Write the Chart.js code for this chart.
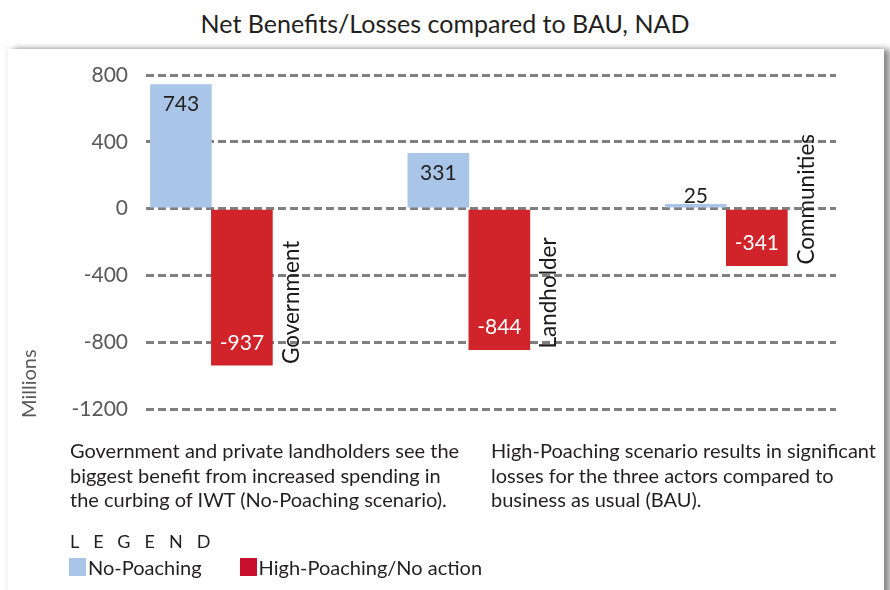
<!DOCTYPE html>
<html>
<head>
<meta charset="utf-8">
<title>Net Benefits/Losses compared to BAU, NAD</title>
<script src="https://cdn.jsdelivr.net/npm/chart.js@4.4.1/dist/chart.umd.min.js"></script>
<style>
  html, body { margin: 0; padding: 0; background: #fff; }
  body {
    width: 890px; height: 590px; position: relative; overflow: hidden;
    font-family: Lato, 'Open Sans', sans-serif; color: #231f20;
  }
  .panel {
    position: absolute; left: 8px; top: 49px; width: 876px; height: 580px;
    background: #fff;
    box-shadow: 6px 0 6px rgba(0, 0, 0, 0.45), -2px -2px 5px rgba(0, 0, 0, 0.06);
  }
  .title {
    position: absolute; left: 0; top: 8px; width: 890px; text-align: center;
    font-size: 25px; line-height: 30px;
  }
  #chart { position: absolute; left: 0; top: 0; }
  .note { position: absolute; top: 438px; font-size: 20px; line-height: 24.5px; white-space: nowrap; }
  #note1 { left: 70px; }
  #note2 { left: 491px; }
  .legend-title { position: absolute; left: 70px; top: 530px; font-size: 18px; letter-spacing: 14px; }
  .legend-items { position: absolute; left: 69px; top: 556px; font-size: 20px; line-height: 22px; display: flex; }
  .legend-item { display: flex; align-items: center; margin-right: 38px; }
  .swatch { width: 17px; height: 18px; margin-right: 2px; }
</style>
</head>
<body>
<div class="panel"></div>
<div class="title" id="title"></div>
<canvas id="chart" width="890" height="590"></canvas>
<div class="note" id="note1"></div>
<div class="note" id="note2"></div>
<div class="legend-title">LEGEND</div>
<div class="legend-items" id="legend"></div>

<script>
const titleText = 'Net Benefits/Losses compared to BAU, NAD';
const categories = ['Government', 'Landholder', 'Communities'];
const seriesNames = ['No-Poaching', 'High-Poaching/No action'];
const noPoaching = [743, 331, 25];
const highPoaching = [-937, -844, -341];
const yTickValues = [800, 400, 0, -400, -800, -1200];
const yAxisTitle = 'Millions';
const note1Lines = [
  'Government and private landholders see the',
  'biggest benefit from increased spending in',
  'the curbing of IWT (No-Poaching scenario).'
];
const note2Lines = [
  'High-Poaching scenario results in significant',
  'losses for the three actors compared to',
  'business as usual (BAU).'
];

const barColors = ['#a9c6e8', '#d1232a'];
const swatchColors = ['#a9c6e8', '#c8102e'];
const valueColors = ['#231f20', '#ffffff'];

document.getElementById('title').textContent = titleText;
document.getElementById('note1').innerHTML = note1Lines.join('<br>');
document.getElementById('note2').innerHTML = note2Lines.join('<br>');

const legendEl = document.getElementById('legend');
seriesNames.forEach(function (name, i) {
  const item = document.createElement('div');
  item.className = 'legend-item';
  const sw = document.createElement('span');
  sw.className = 'swatch';
  sw.style.background = swatchColors[i];
  const txt = document.createElement('span');
  txt.textContent = name;
  item.appendChild(sw);
  item.appendChild(txt);
  legendEl.appendChild(item);
});

Chart.defaults.font.family = 'Lato, "Open Sans", sans-serif';

// value labels inside the bars, category names beside the red bars, axis title
const barText = {
  id: 'barText',
  afterDatasetsDraw(chart) {
    const ctx = chart.ctx;
    ctx.save();
    ctx.font = '21px Lato';
    ctx.textAlign = 'center';
    ctx.textBaseline = 'middle';
    chart.data.datasets.forEach(function (ds, di) {
      chart.getDatasetMeta(di).data.forEach(function (bar, i) {
        const v = ds.data[i].y;
        let y;
        if (v >= 0) y = Math.min(bar.y + 20, bar.base - 11);
        else y = Math.max(bar.y - 22, bar.base + 11);
        ctx.fillStyle = valueColors[di];
        ctx.fillText(String(v), bar.x, y);
      });
    });

    const red = chart.getDatasetMeta(1).data;
    ctx.font = '22.5px Lato';
    ctx.fillStyle = '#1a1a1a';
    ctx.textAlign = 'left';
    red.forEach(function (bar, i) {
      ctx.save();
      ctx.translate(bar.x + bar.width / 2 + 19, bar.y - 1);
      ctx.rotate(-Math.PI / 2);
      ctx.fillText(categories[i], 0, 0);
      ctx.restore();
    });

    ctx.font = '20px Lato';
    ctx.fillStyle = '#595959';
    ctx.translate(30, 418);
    ctx.rotate(-Math.PI / 2);
    ctx.fillText(yAxisTitle, 0, 0);
    ctx.restore();
  }
};

new Chart(document.getElementById('chart'), {
  type: 'bar',
  data: {
    datasets: [
      {
        label: seriesNames[0],
        data: noPoaching.map(function (v, i) { return { x: i, y: v }; }),
        backgroundColor: barColors[0],
        barThickness: 61
      },
      {
        label: seriesNames[1],
        data: highPoaching.map(function (v, i) { return { x: i, y: v }; }),
        backgroundColor: barColors[1],
        barThickness: 61
      }
    ]
  },
  options: {
    responsive: false,
    animation: false,
    layout: { padding: { left: 10, right: 54, top: 75, bottom: 181 } },
    plugins: {
      legend: { display: false },
      tooltip: { enabled: false },
      title: { display: false }
    },
    scales: {
      x: { type: 'linear', display: false, offset: false, min: -0.254, max: 2.426 },
      y: {
        min: -1200,
        max: 800,
        afterBuildTicks: function (s) {
          s.ticks = yTickValues.slice().sort(function (a, b) { return a - b; })
            .map(function (v) { return { value: v }; });
        },
        afterFit: function (s) {
          s.width = 136;
          s.paddingTop = 0;
          s.paddingBottom = 0;
        },
        ticks: {
          padding: 18,
          color: '#595959',
          font: { size: 21 },
          callback: function (value) { return String(value); }
        },
        grid: { color: '#7f7f7f', lineWidth: 3, drawTicks: false },
        border: { display: false, dash: [8, 4] }
      }
    }
  },
  plugins: [barText]
});
</script>
</body>
</html>
